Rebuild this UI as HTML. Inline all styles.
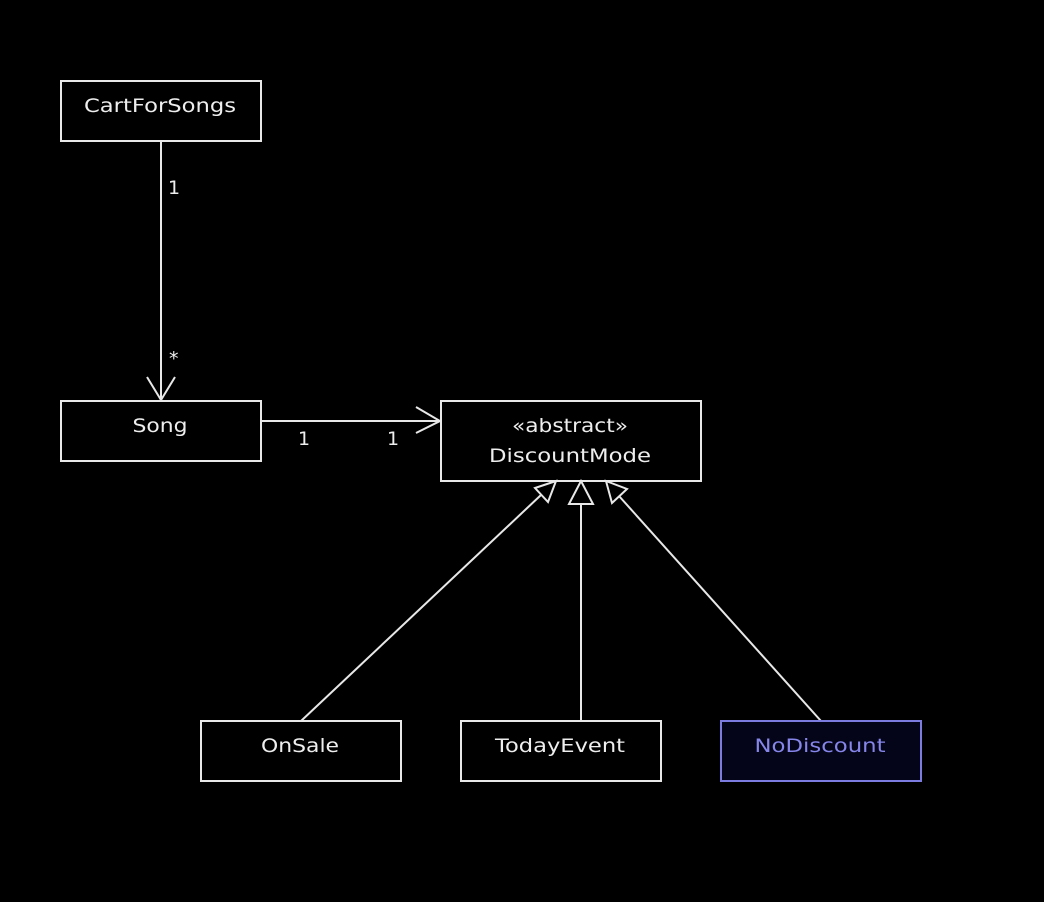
<!DOCTYPE html>
<html><head><style>
html,body{margin:0;padding:0;background:#000;}
svg{display:block}
text{font-family:"DejaVu Sans","Liberation Sans",sans-serif;font-size:19px;fill:#eee;}
</style></head><body>
<svg width="1044" height="902" viewBox="0 0 1044 902">
<rect width="1044" height="902" fill="#000"/>
<g fill="none" stroke="#e8e8e8" stroke-width="2">
<rect x="61" y="81" width="200" height="60"/>
<rect x="61" y="401" width="200" height="60"/>
<rect x="441" y="401" width="260" height="80"/>
<rect x="201" y="721" width="200" height="60"/>
<rect x="461" y="721" width="200" height="60"/>
<line x1="161" y1="141" x2="161" y2="400"/>
<polyline points="147,377 161,400 175,377"/>
<line x1="261" y1="421" x2="440" y2="421"/>
<polyline points="416,407 440,421 416,433"/>
<line x1="301" y1="721" x2="541" y2="495"/>
<polygon points="556,481 548,502 535,488"/>
<line x1="581" y1="721" x2="581" y2="504"/>
<polygon points="581,481 593,504 569,504"/>
<line x1="821" y1="721" x2="619" y2="496"/>
<polygon points="606,481 627,489 612,503"/>
</g>
<rect x="721" y="721" width="200" height="60" fill="#05051a" stroke="#7b7be0" stroke-width="2"/>
<text x="160" y="112" text-anchor="middle" textLength="152" lengthAdjust="spacingAndGlyphs">CartForSongs</text>
<text x="160" y="432" text-anchor="middle" textLength="55" lengthAdjust="spacingAndGlyphs">Song</text>
<text x="570" y="432" text-anchor="middle" textLength="116" lengthAdjust="spacingAndGlyphs">«abstract»</text>
<text x="570" y="462" text-anchor="middle" textLength="162" lengthAdjust="spacingAndGlyphs">DiscountMode</text>
<text x="300" y="752" text-anchor="middle" textLength="78" lengthAdjust="spacingAndGlyphs">OnSale</text>
<text x="560" y="752" text-anchor="middle" textLength="130" lengthAdjust="spacingAndGlyphs">TodayEvent</text>
<text x="820" y="752" text-anchor="middle" textLength="131" lengthAdjust="spacingAndGlyphs" style="fill:#8585ea">NoDiscount</text>
<text x="168" y="194">1</text>
<text x="169" y="365">*</text>
<text x="298" y="445">1</text>
<text x="387" y="445">1</text>
</svg>
</body></html>
